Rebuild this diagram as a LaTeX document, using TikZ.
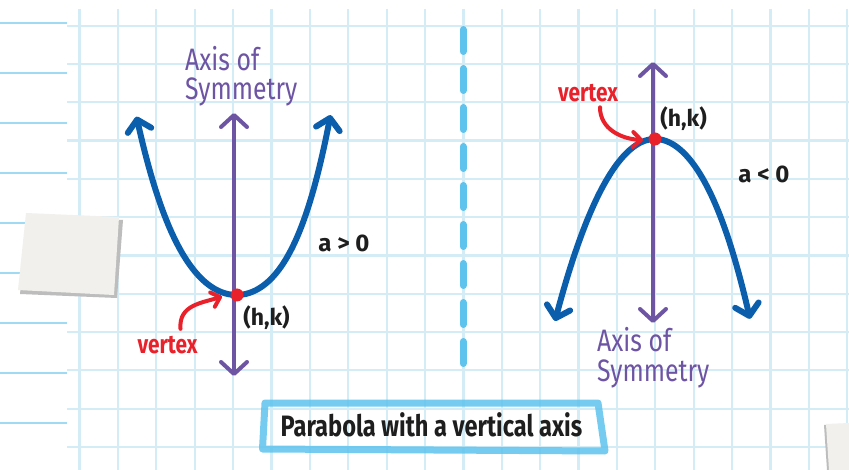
\documentclass[tikz,border=0pt]{standalone}
\usepackage{fontspec}
\setmainfont{Fira Sans}
\newfontfamily\hand[FakeStretch=0.8]{Fira Sans}
\newfontfamily\handn{Fira Sans}
\usetikzlibrary{arrows.meta}
\definecolor{gridc}{HTML}{D3ECF6}
\definecolor{linec}{HTML}{9FD9F4}
\definecolor{curveblue}{HTML}{0A5EAB}
\definecolor{axispurple}{HTML}{6E55A4}
\definecolor{vred}{HTML}{E8212B}
\definecolor{lightblue}{HTML}{5EC4EE}
\definecolor{notec}{HTML}{F1F0EC}
\definecolor{shadowc}{HTML}{BDBDBD}
\definecolor{inkc}{HTML}{1E1E1E}
\begin{document}
\begin{tikzpicture}[x=1pt,y=-1pt,
  gridline/.style={draw=gridc, line width=2.2pt},
  paperline/.style={draw=linec, line width=2pt},
  curvearrow/.style={draw=curveblue, line width=6pt, line cap=round, line join=round,
    arrows={Straight Barb[length=11pt,width=24pt,round]-Straight Barb[length=11pt,width=24pt,round]}},
  axisarrow/.style={draw=axispurple, line width=4pt, line cap=round,
    arrows={Straight Barb[length=12pt,width=26pt,round]-Straight Barb[length=12pt,width=26pt,round]}},
  redarrow/.style={draw=vred, line width=4pt, line cap=round,
    -{Straight Barb[length=8pt,width=15pt,round]}},
  vdot/.style={circle, fill=vred, minimum size=13pt, inner sep=0pt},
  axislabel/.style={text=axispurple, font=\hand\fontsize{31}{31}\selectfont, inner sep=0pt, anchor=base west},
  redlabel/.style={text=vred, font=\hand\bfseries\fontsize{26}{26}\selectfont, inner sep=0pt, anchor=base},
  inklabel/.style={text=inkc, font=\handn\bfseries\fontsize{23}{23}\selectfont, inner sep=0pt, anchor=base},
  alabel/.style={text=inkc, font=\handn\bfseries\fontsize{24}{24}\selectfont, inner sep=0pt, anchor=base},
  titlelabel/.style={text=inkc, font=\hand\bfseries\fontsize{29.5}{29.5}\selectfont, inner sep=0pt, anchor=base},
  notebox/.style={draw=lightblue, opacity=0.85, line width=7pt, line join=round, line cap=round}
]
\useasboundingbox (0,0) rectangle (849,470);
\fill[white] (0,0) rectangle (849,470);
% lined paper behind
\foreach \j in {0,...,8} \draw[paperline] (0,{22.7+50*\j}) -- (67,{22.7+50*\j});
% grid paper
\foreach \i in {0,...,20} \draw[gridline] ({79.5+38.39*\i},9) -- ({79.5+38.39*\i},470);
\foreach \j in {0,...,11} \draw[gridline] (67,{25.7+38.3*\j}) -- (849,{25.7+38.3*\j});
% sticky notes
\fill[shadowc] (28,216) -- (123,220) -- (117,298) -- (20,294) -- cycle;
\fill[notec] (26,213) -- (119,217) -- (114,295) -- (18,290) -- cycle;
\fill[shadowc] (824,425) -- (849,424) -- (849,470) -- (827,470) -- cycle;
\fill[notec] (826,424) -- (849,423) -- (849,470) -- (829,470) -- cycle;
% dashed divider
\draw[draw=lightblue, line width=7pt, line cap=round, dash pattern=on 22pt off 17pt] (463,29.5) -- (463,364.5);
% left parabola (opens up)
\draw[curvearrow] plot[domain=-100:94, samples=98, smooth]
  ({\x+236.5}, {295-(\x<0 ? 0.0127*\x*\x+0.514*(\x*\x/1000)^2 : 0.0125*\x*\x+0.89*(\x*\x/1000)^2)});
\coordinate (axLtop) at (234,113);
\coordinate (axLbot) at (234,376);
\draw[axisarrow] (axLbot) -- (axLtop);
\node[vdot] (dotL) at (237,295) {};
% right parabola (opens down)
\draw[curvearrow] plot[domain=-100:95, samples=98, smooth]
  ({\x+655}, {139+(\x<0 ? 0.0172*\x*\x+0.1*(\x*\x/1000)^2 : 0.0165*\x*\x+0.38*(\x*\x/1000)^2)});
\coordinate (axRtop) at (653,62);
\coordinate (axRbot) at (653,323);
\draw[axisarrow] (axRbot) -- (axRtop);
\node[vdot] (dotR) at (655,139) {};
% labels left
\node[axislabel] (axL1) at (185,70.7) {Axis of};
\node[axislabel] (axL2) at (185,100) {Symmetry};
\node[redlabel] (vtxL) at (167.5,353.3) {vertex};
\node[inklabel] (hkL) at (266.5,326) {(h,k)};
\node[alabel] (aL) at (344,252) {a > 0};
% labels right
\node[axislabel] (axR1) at (597,351.7) {Axis of};
\node[axislabel] (axR2) at (597,381.7) {Symmetry};
\node[redlabel] (vtxR) at (588,101.7) {vertex};
\node[inklabel] (hkR) at (683.5,126.7) {(h,k)};
\node[alabel] (aR) at (764,183) {a < 0};
% red pointers
\coordinate (tipL) at (222,296.5);
\draw[redarrow] ([xshift=13pt,yshift=7pt]vtxL.north) .. controls +(-2,-24) and (202,303) .. (tipL);
\coordinate (tipR) at (643,140);
\draw[redarrow] ([xshift=12pt,yshift=-5pt]vtxR.south) .. controls +(0,22) and (622,139) .. (tipR);
% title box
\node[titlelabel] (title) at (431.5,436.7) {Parabola with a vertical axis};
\draw[notebox] (262.5,449) -- (265,403) -- (598,403) -- (605,451) -- (262.5,449) -- cycle;
\end{tikzpicture}
\end{document}
